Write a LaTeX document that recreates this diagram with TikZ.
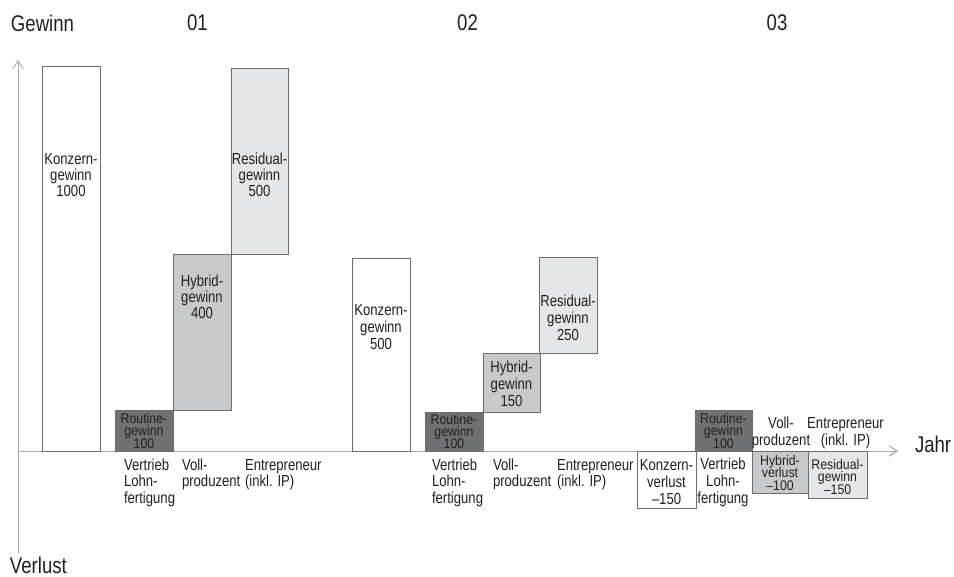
\documentclass[tikz,border=0pt]{standalone}
\usepackage{fontspec}
\setmainfont[FakeStretch=0.82]{Liberation Sans}
\newfontfamily\tightfont[FakeStretch=0.88]{Liberation Sans}
\usetikzlibrary{arrows.meta}
\definecolor{ink}{HTML}{231F20}
\definecolor{boxline}{HTML}{6D6E71}
\definecolor{axisline}{HTML}{A7A9AC}
\definecolor{routinefill}{HTML}{707173}
\definecolor{hybridfill}{HTML}{C8C9CB}
\definecolor{residualfill}{HTML}{E5E6E7}
\tikzset{
  txt/.style={inner sep=0pt, outer sep=0pt, text=ink, font=\fontsize{12}{13}\selectfont},
  tight/.style={font=\tightfont\fontsize{10.5}{12}\selectfont},
  big/.style={inner sep=0pt, outer sep=0pt, text=ink, font=\fontsize{17}{19}\selectfont},
  barbox/.style={draw=boxline, line width=0.75pt, inner sep=0pt, outer sep=0pt, anchor=north west},
  axisst/.style={draw=axisline, line width=0.75pt, -{Straight Barb[length=6pt,width=8pt]}}
}
\newcommand\bx[6]{\node[barbox,fill=#6,minimum width={(#4-#2)*0.75pt},minimum height={(#5-#3)*0.75pt}] (#1) at (#2,#3) {};}
\newcommand\lns[7][]{\foreach \t [count=\i] in {#7} {\node[txt,#1,anchor=#3] (#2-\i) at (#4,{#5+(\i-1)*#6}) {\t};}}
\begin{document}
\begin{tikzpicture}[x=0.75pt,y=-0.75pt]
\useasboundingbox (0,0) rectangle (954,576);
% axes
\coordinate (hs) at (18,451);
\coordinate (he) at (898,451);
\coordinate (vs) at (18,553);
\coordinate (ve) at (18,60);
\draw[axisst] (hs) -- (he);
\draw[axisst] (vs) -- (ve);
% axis labels
\node[big,anchor=base west] (gewinn) at (11,31) {Gewinn};
\node[big,anchor=base west] (verlust) at (10,573) {Verlust};
\node[big,anchor=base west] (jahr) at (915,452) {Jahr};
\node[big,anchor=base] (g01) at (197.5,30) {01};
\node[big,anchor=base] (g02) at (467.5,30) {02};
\node[big,anchor=base] (g03) at (777,30) {03};
% group 01
\bx{k1}{42}{66}{100}{451}{white}
\bx{r1}{115}{410}{173}{451}{routinefill}
\bx{h1}{173}{254}{231}{410}{hybridfill}
\bx{s1}{231}{68}{288}{254}{residualfill}
\lns{k1t}{base}{71}{164}{16}{Konzern-,gewinn,1000}
\lns[tight]{r1t}{base}{144}{423}{12.5}{Routine-,gewinn,100}
\lns{h1t}{base}{202}{286}{16}{Hybrid-,gewinn,400}
\lns{s1t}{base}{259.5}{164}{16}{Residual-,gewinn,500}
\lns{l1a}{base west}{124}{470}{16.5}{Vertrieb,Lohn-,fertigung}
\lns{l1b}{base west}{182}{470}{16.5}{Voll-,produzent}
\lns{l1c}{base west}{245}{470}{16.5}{Entrepreneur,(inkl. IP)}
% group 02
\bx{k2}{352}{258}{410}{451}{white}
\bx{r2}{425}{412}{483}{451}{routinefill}
\bx{h2}{483}{353}{540}{412}{hybridfill}
\bx{s2}{539}{257}{597}{353}{residualfill}
\lns{k2t}{base}{381}{315}{17}{Konzern-,gewinn,500}
\lns[tight]{r2t}{base}{454}{424}{12}{Routine-,gewinn,100}
\lns{h2t}{base}{511.5}{372}{17}{Hybrid-,gewinn,150}
\lns{s2t}{base}{568}{306}{17}{Residual-,gewinn,250}
\lns{l2a}{base west}{432}{470}{16.5}{Vertrieb,Lohn-,fertigung}
\lns{l2b}{base west}{493}{470}{16.5}{Voll-,produzent}
\lns{l2c}{base west}{557}{470}{16.5}{Entrepreneur,(inkl. IP)}
% group 03
\bx{kv}{637}{451}{696}{508}{white}
\bx{r3}{695}{410}{752}{451}{routinefill}
\bx{hv}{752}{451}{808}{493}{hybridfill}
\bx{sv}{808}{451}{867}{498}{residualfill}
\lns{kvt}{base}{666.5}{470}{17}{Konzern-,verlust,–150}
\lns[tight]{r3t}{base}{723.5}{423}{12.5}{Routine-,gewinn,100}
\lns[tight]{hvt}{base}{780}{465}{12.5}{Hybrid-,verlust,–100}
\lns[tight]{svt}{base}{837.5}{469}{12.5}{Residual-,gewinn,–150}
\lns{l3a}{base}{723}{469}{17}{Vertrieb,Lohn-,fertigung}
\lns{l3b}{base}{781}{428}{17}{Voll-,produzent}
\lns{l3c}{base}{845.5}{428}{17}{Entrepreneur,(inkl. IP)}
\end{tikzpicture}
\end{document}
